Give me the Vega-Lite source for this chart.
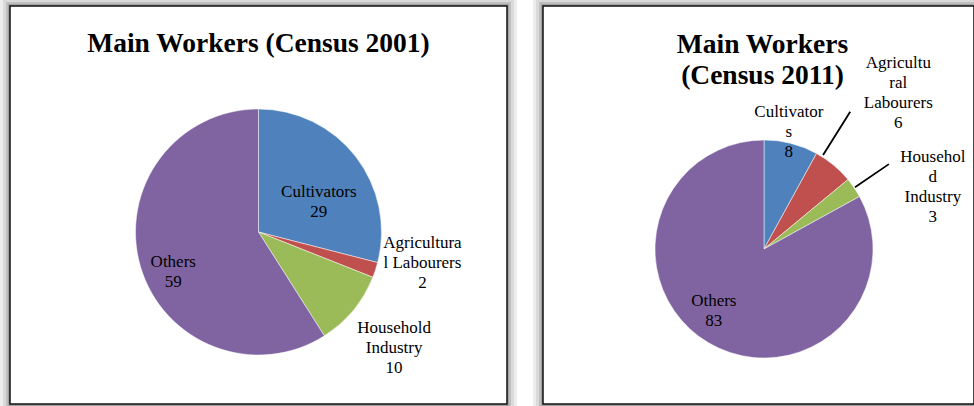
{
  "$schema": "https://vega.github.io/schema/vega-lite/v6.json",
  "padding": {"left": 0, "top": -4, "right": -10, "bottom": -8},
  "spacing": 36,
  "bounds": "flush",
  "background": "#ffffff",
  "config": {
    "view": {"stroke": null},
    "font": "Liberation Serif"
  },
  "datasets": {
    "d2001": [
      {"i": 1, "cat": "Cultivators", "value": 29, "label": "Cultivators\n29"},
      {"i": 2, "cat": "Agricultural Labourers", "value": 2, "label": "Agricultura\nl Labourers\n2"},
      {"i": 3, "cat": "Household Industry", "value": 10, "label": "Household\nIndustry\n10"},
      {"i": 4, "cat": "Others", "value": 59, "label": "Others\n59"}
    ],
    "d2011": [
      {"i": 1, "cat": "Cultivators", "value": 8, "label": "Cultivator\ns\n8"},
      {"i": 2, "cat": "Agricultural Labourers", "value": 6, "label": "Agricultu\nral\nLabourers\n6"},
      {"i": 3, "cat": "Household Industry", "value": 3, "label": "Househol\nd\nIndustry\n3"},
      {"i": 4, "cat": "Others", "value": 83, "label": "Others\n83"}
    ],
    "title2001": [{"title": "Main Workers (Census 2001)"}],
    "title2011": [{"title": "Main Workers\n(Census 2011)"}]
  },
  "hconcat": [
    {
      "data": {"name": "d2001"},
      "width": 497,
      "height": 398,
      "layer": [
        {"data": {"name": "title2001"}, "mark": {"type": "rect", "filled": false, "stroke": "#000000", "strokeWidth": 20, "strokeOpacity": 0.07}, "encoding": {}},
        {"data": {"name": "title2001"}, "mark": {"type": "rect", "filled": false, "stroke": "#000000", "strokeWidth": 14, "strokeOpacity": 0.08}, "encoding": {}},
        {"data": {"name": "title2001"}, "mark": {"type": "rect", "filled": false, "stroke": "#000000", "strokeWidth": 8, "strokeOpacity": 0.12}, "encoding": {}},
        {"data": {"name": "title2001"}, "mark": {"type": "rect", "filled": false, "stroke": "#000000", "strokeWidth": 4, "strokeOpacity": 0.15}, "encoding": {}},
        {"data": {"name": "title2001"}, "mark": {"type": "rect", "fill": "#ffffff", "stroke": "#111111", "strokeWidth": 1.5}, "encoding": {}},
        {
          "data": {"name": "title2001"},
          "mark": {"type": "text", "baseline": "alphabetic", "align": "center", "dy": -153, "font": "Liberation Serif", "fontSize": 27.5, "fontWeight": "bold", "color": "#000000"},
          "encoding": {"text": {"field": "title", "type": "nominal"}}
        },
        {
          "mark": {"type": "arc", "outerRadius": 123, "yOffset": 27, "stroke": "#ffffff", "strokeWidth": 0.5},
          "encoding": {
            "theta": {"field": "value", "type": "quantitative", "stack": true},
            "order": {"field": "i", "type": "quantitative"},
            "color": {"field": "cat", "type": "nominal", "legend": null,
              "scale": {"domain": ["Cultivators", "Agricultural Labourers", "Household Industry", "Others"], "range": ["#4F81BD", "#C0504D", "#9BBB59", "#8064A2"]}}
          }
        },
        {
          "mark": {"type": "text", "radius": 65, "yOffset": 27, "dx": 9, "dy": 0, "font": "Liberation Serif", "fontSize": 17, "lineBreak": "\n", "lineHeight": 20, "color": "#000000"},
          "encoding": {
            "theta": {"field": "value", "type": "quantitative", "stack": true},
            "order": {"field": "i", "type": "quantitative"},
            "text": {"condition": {"test": "datum.cat === 'Cultivators'", "field": "label"}, "value": ""}
          }
        },
        {
          "mark": {"type": "text", "radius": 165, "yOffset": 27, "dx": 7, "dy": -40, "font": "Liberation Serif", "fontSize": 17, "lineBreak": "\n", "lineHeight": 20, "color": "#000000"},
          "encoding": {
            "theta": {"field": "value", "type": "quantitative", "stack": true},
            "order": {"field": "i", "type": "quantitative"},
            "text": {"condition": {"test": "datum.cat === 'Agricultural Labourers'", "field": "label"}, "value": ""}
          }
        },
        {
          "mark": {"type": "text", "radius": 176, "yOffset": 27, "dx": 0, "dy": -16, "font": "Liberation Serif", "fontSize": 17, "lineBreak": "\n", "lineHeight": 20, "color": "#000000"},
          "encoding": {
            "theta": {"field": "value", "type": "quantitative", "stack": true},
            "order": {"field": "i", "type": "quantitative"},
            "text": {"condition": {"test": "datum.cat === 'Household Industry'", "field": "label"}, "value": ""}
          }
        },
        {
          "mark": {"type": "text", "radius": 95, "yOffset": 27, "dx": 6, "dy": 3, "font": "Liberation Serif", "fontSize": 17, "lineBreak": "\n", "lineHeight": 20, "color": "#000000"},
          "encoding": {
            "theta": {"field": "value", "type": "quantitative", "stack": true},
            "order": {"field": "i", "type": "quantitative"},
            "text": {"condition": {"test": "datum.cat === 'Others'", "field": "label"}, "value": ""}
          }
        }
      ]
    },
    {
      "data": {"name": "d2011"},
      "width": 431,
      "height": 398,
      "layer": [
        {"data": {"name": "title2011"}, "mark": {"type": "rect", "filled": false, "stroke": "#000000", "strokeWidth": 20, "strokeOpacity": 0.07}, "encoding": {}},
        {"data": {"name": "title2011"}, "mark": {"type": "rect", "filled": false, "stroke": "#000000", "strokeWidth": 14, "strokeOpacity": 0.08}, "encoding": {}},
        {"data": {"name": "title2011"}, "mark": {"type": "rect", "filled": false, "stroke": "#000000", "strokeWidth": 8, "strokeOpacity": 0.12}, "encoding": {}},
        {"data": {"name": "title2011"}, "mark": {"type": "rect", "filled": false, "stroke": "#000000", "strokeWidth": 4, "strokeOpacity": 0.15}, "encoding": {}},
        {"data": {"name": "title2011"}, "mark": {"type": "rect", "fill": "#ffffff", "stroke": "#111111", "strokeWidth": 1.5}, "encoding": {}},
        {
          "data": {"name": "title2011"},
          "mark": {"type": "text", "baseline": "alphabetic", "align": "center", "dy": -152, "xOffset": 4, "lineBreak": "\n", "lineHeight": 31, "font": "Liberation Serif", "fontSize": 27.5, "fontWeight": "bold", "color": "#000000"},
          "encoding": {"text": {"field": "title", "type": "nominal"}}
        },
        {
          "mark": {"type": "arc", "outerRadius": 109, "xOffset": 5.5, "yOffset": 44, "stroke": "#ffffff", "strokeWidth": 0.5},
          "encoding": {
            "theta": {"field": "value", "type": "quantitative", "stack": true},
            "order": {"field": "i", "type": "quantitative"},
            "color": {"field": "cat", "type": "nominal", "legend": null,
              "scale": {"domain": ["Cultivators", "Agricultural Labourers", "Household Industry", "Others"], "range": ["#4F81BD", "#C0504D", "#9BBB59", "#8064A2"]}}
          }
        },
        {
          "mark": {"type": "arc", "innerRadius": 111, "outerRadius": 162, "padAngle": 0.8, "thetaOffset": -0.13, "theta2Offset": -0.13, "xOffset": 5.5, "yOffset": 44, "fillOpacity": 0, "stroke": "#000000", "strokeWidth": 1.8},
          "encoding": {
            "theta": {"field": "value", "type": "quantitative", "stack": true},
            "order": {"field": "i", "type": "quantitative"},
            "strokeOpacity": {"condition": {"test": "datum.cat === 'Agricultural Labourers'", "value": 1}, "value": 0}
          }
        },
        {
          "mark": {"type": "arc", "innerRadius": 110, "outerRadius": 151, "padAngle": 0.8, "xOffset": 5.5, "yOffset": 44, "fillOpacity": 0, "stroke": "#000000", "strokeWidth": 1.8},
          "encoding": {
            "theta": {"field": "value", "type": "quantitative", "stack": true},
            "order": {"field": "i", "type": "quantitative"},
            "strokeOpacity": {"condition": {"test": "datum.cat === 'Household Industry'", "value": 1}, "value": 0}
          }
        },
        {
          "mark": {"type": "text", "radius": 120, "xOffset": 5.5, "yOffset": 44, "dx": -5, "dy": -21, "font": "Liberation Serif", "fontSize": 17, "lineBreak": "\n", "lineHeight": 20, "color": "#000000"},
          "encoding": {
            "theta": {"field": "value", "type": "quantitative", "stack": true},
            "order": {"field": "i", "type": "quantitative"},
            "text": {"condition": {"test": "datum.cat === 'Cultivators'", "field": "label"}, "value": ""}
          }
        },
        {
          "mark": {"type": "text", "radius": 206, "xOffset": 5.5, "yOffset": 44, "dx": 3, "dy": -27, "font": "Liberation Serif", "fontSize": 17, "lineBreak": "\n", "lineHeight": 20, "color": "#000000"},
          "encoding": {
            "theta": {"field": "value", "type": "quantitative", "stack": true},
            "order": {"field": "i", "type": "quantitative"},
            "text": {"condition": {"test": "datum.cat === 'Agricultural Labourers'", "field": "label"}, "value": ""}
          }
        },
        {
          "mark": {"type": "text", "radius": 180, "xOffset": 5.5, "yOffset": 44, "dx": 20, "dy": 9, "font": "Liberation Serif", "fontSize": 17, "lineBreak": "\n", "lineHeight": 20, "color": "#000000"},
          "encoding": {
            "theta": {"field": "value", "type": "quantitative", "stack": true},
            "order": {"field": "i", "type": "quantitative"},
            "text": {"condition": {"test": "datum.cat === 'Household Industry'", "field": "label"}, "value": ""}
          }
        },
        {
          "mark": {"type": "text", "radius": 79, "xOffset": 5.5, "yOffset": 44, "dx": -10, "dy": -16, "font": "Liberation Serif", "fontSize": 17, "lineBreak": "\n", "lineHeight": 20, "color": "#000000"},
          "encoding": {
            "theta": {"field": "value", "type": "quantitative", "stack": true},
            "order": {"field": "i", "type": "quantitative"},
            "text": {"condition": {"test": "datum.cat === 'Others'", "field": "label"}, "value": ""}
          }
        }
      ]
    }
  ]
}
